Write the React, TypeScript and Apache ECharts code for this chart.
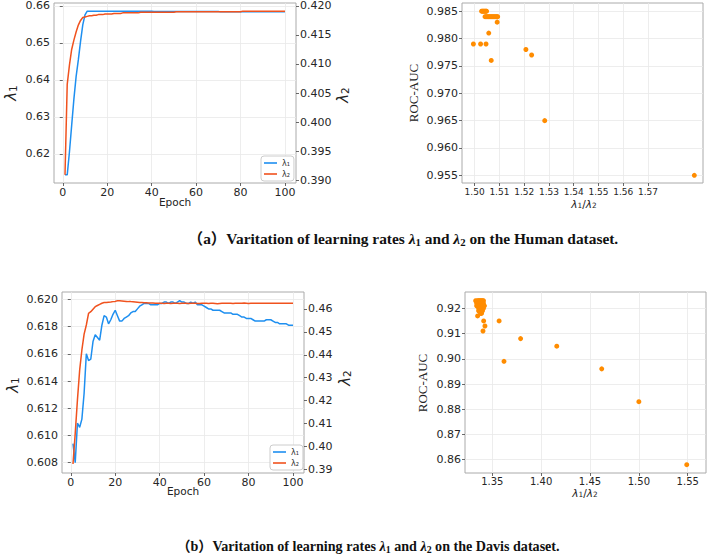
import React, { useEffect, useRef } from "react";
import * as echarts from "echarts";

// ---------- data ----------
const epochs = Array.from({ length: 100 }, (_, i) => i + 1);

const humanLambda1 = [
  0.6143, 0.6143, 0.6205, 0.6277, 0.6348, 0.6409, 0.6454, 0.6504, 0.6549, 0.6576,
  0.6586, 0.6586, 0.6586, 0.6586, 0.6586, 0.6586, 0.6586, 0.6586, 0.6586, 0.6586,
  0.6586, 0.6586, 0.6586, 0.6586, 0.6586, 0.6586, 0.6586, 0.6586, 0.6586, 0.6586,
  0.6586, 0.6586, 0.6586, 0.6586, 0.6586, 0.6586, 0.6586, 0.6586, 0.6586, 0.6586,
  0.6585, 0.6585, 0.6585, 0.6585, 0.6585, 0.6585, 0.6585, 0.6585, 0.6585, 0.6585,
  0.6585, 0.6585, 0.6585, 0.6585, 0.6585, 0.6585, 0.6585, 0.6585, 0.6585, 0.6585,
  0.6585, 0.6585, 0.6585, 0.6585, 0.6585, 0.6585, 0.6585, 0.6585, 0.6585, 0.6585,
  0.6584, 0.6584, 0.6584, 0.6584, 0.6584, 0.6584, 0.6584, 0.6584, 0.6584, 0.6584,
  0.6584, 0.6584, 0.6584, 0.6584, 0.6584, 0.6584, 0.6584, 0.6584, 0.6584, 0.6584,
  0.6584, 0.6584, 0.6584, 0.6584, 0.6584, 0.6584, 0.6584, 0.6584, 0.6584, 0.6584,
];

const humanLambda2 = [
  0.3909, 0.4065, 0.4098, 0.4125, 0.4141, 0.4155, 0.4167, 0.4175, 0.418, 0.4181,
  0.4182, 0.4183, 0.4183, 0.4184, 0.4184, 0.4185, 0.4185, 0.4185, 0.4186, 0.4186,
  0.4186, 0.4186, 0.4187, 0.4187, 0.4187, 0.4187, 0.4188, 0.4188, 0.4188, 0.4188,
  0.4188, 0.4188, 0.4188, 0.4188, 0.4189, 0.4189, 0.4189, 0.4189, 0.4189, 0.4189,
  0.4189, 0.4189, 0.4189, 0.4189, 0.4189, 0.4189, 0.4189, 0.4189, 0.4189, 0.4189,
  0.419, 0.419, 0.419, 0.419, 0.419, 0.419, 0.419, 0.419, 0.419, 0.419,
  0.419, 0.419, 0.419, 0.419, 0.419, 0.419, 0.419, 0.419, 0.419, 0.419,
  0.419, 0.419, 0.419, 0.419, 0.419, 0.419, 0.419, 0.419, 0.419, 0.419,
  0.4191, 0.4191, 0.4191, 0.4191, 0.4191, 0.4191, 0.4191, 0.4191, 0.4191, 0.4191,
  0.4191, 0.4191, 0.4191, 0.4191, 0.4191, 0.4191, 0.4191, 0.4191, 0.4191, 0.4191,
];

const davisLambda1 = [
  0.6094, 0.608, 0.6109, 0.6106, 0.6112, 0.6131, 0.616, 0.6155, 0.6156, 0.6169,
  0.6174, 0.6172, 0.617, 0.6181, 0.6188, 0.6187, 0.6182, 0.6185, 0.6189, 0.6192,
  0.6188, 0.6184, 0.6184, 0.6186, 0.6187, 0.6188, 0.619, 0.6191, 0.6191, 0.6193,
  0.6195, 0.6196, 0.6197, 0.6197, 0.6197, 0.6196, 0.6196, 0.6196, 0.6196, 0.6197,
  0.6197, 0.6198, 0.6198, 0.6197, 0.6198, 0.6198, 0.6197, 0.6198, 0.6199, 0.6198,
  0.6198, 0.6197, 0.6197, 0.6198, 0.6197, 0.6198, 0.6196, 0.6196, 0.6196, 0.6195,
  0.6194, 0.6193, 0.6193, 0.6192, 0.6192, 0.6192, 0.6192, 0.6191, 0.619, 0.619,
  0.619, 0.619, 0.6189, 0.6189, 0.6189, 0.6188, 0.6187, 0.6187, 0.6186, 0.6186,
  0.6186, 0.6185, 0.6184, 0.6184, 0.6184, 0.6184, 0.6184, 0.6185, 0.6185, 0.6185,
  0.6184, 0.6183, 0.6183, 0.6182, 0.6182, 0.6182, 0.6182, 0.6181, 0.6181, 0.6181,
];

const davisLambda2 = [
  0.3923, 0.4057, 0.4203, 0.4333, 0.4421, 0.449, 0.453, 0.4581, 0.4588, 0.4599,
  0.461, 0.4615, 0.462, 0.4625, 0.4628, 0.4628, 0.4629, 0.463, 0.4632, 0.4633,
  0.4636, 0.4636, 0.4635, 0.4634, 0.4633, 0.4632, 0.4632, 0.4631, 0.463, 0.4629,
  0.4628, 0.4628, 0.4627, 0.4627, 0.4626, 0.4626, 0.4626, 0.4625, 0.4625, 0.4625,
  0.4625, 0.4624, 0.4625, 0.4625, 0.4624, 0.4625, 0.4625, 0.4625, 0.4624, 0.4625,
  0.4625, 0.4625, 0.4624, 0.4625, 0.4625, 0.4625, 0.4624, 0.4624, 0.4625, 0.4625,
  0.4625, 0.4624, 0.4625, 0.4625, 0.4624, 0.4623, 0.4624, 0.4625, 0.4625, 0.4625,
  0.4625, 0.4625, 0.4624, 0.4625, 0.4625, 0.4625, 0.4625, 0.4626, 0.4625, 0.4624,
  0.4625, 0.4625, 0.4625, 0.4625, 0.4625, 0.4625, 0.4625, 0.4625, 0.4625, 0.4625,
  0.4625, 0.4625, 0.4625, 0.4625, 0.4625, 0.4625, 0.4625, 0.4625, 0.4625, 0.4625,
];

const humanRatio = [
  1.4995, 1.5024, 1.5046, 1.5057, 1.5067, 1.5091, 1.5207, 1.523, 1.5283, 1.5887,
  1.5028, 1.5031, 1.5034, 1.5037, 1.504, 1.5043, 1.5046, 1.5048,
  1.5042, 1.5046, 1.505, 1.5054, 1.5058, 1.5062, 1.5066, 1.507, 1.5074, 1.5078,
  1.5082, 1.5086, 1.509, 1.5093,
];
const humanAuc = [
  0.979, 0.979, 0.979, 0.981, 0.976, 0.983, 0.978, 0.977, 0.965, 0.955,
  0.985, 0.985, 0.985, 0.985, 0.985, 0.985, 0.985, 0.985,
  0.984, 0.984, 0.984, 0.984, 0.984, 0.984, 0.984, 0.984, 0.984, 0.984,
  0.984, 0.984, 0.984, 0.984,
];

const davisRatio = [
  1.333, 1.335, 1.336, 1.337, 1.338, 1.339, 1.34, 1.341,
  1.334, 1.336, 1.337, 1.338, 1.339, 1.34, 1.341,
  1.334, 1.335, 1.337, 1.338, 1.339, 1.34, 1.341, 1.342,
  1.336, 1.337, 1.338, 1.339, 1.34, 1.341,
  1.336, 1.337, 1.338, 1.339, 1.34,
  1.338, 1.339,
  1.335, 1.3412, 1.3425, 1.3405, 1.357, 1.362, 1.379, 1.416, 1.462, 1.5, 1.549,
];
const davisAuc = [
  0.923, 0.923, 0.923, 0.923, 0.923, 0.923, 0.923, 0.923,
  0.922, 0.922, 0.922, 0.922, 0.922, 0.922, 0.922,
  0.921, 0.921, 0.921, 0.921, 0.921, 0.921, 0.921, 0.921,
  0.92, 0.92, 0.92, 0.92, 0.92, 0.92,
  0.919, 0.919, 0.919, 0.919, 0.919,
  0.918, 0.918,
  0.917, 0.915, 0.913, 0.911, 0.915, 0.899, 0.908, 0.905, 0.896, 0.883, 0.858,
];

// tick labels
const epochTicks = [0, 20, 40, 60, 80, 100];
const humanL1Ticks = [0.62, 0.63, 0.64, 0.65, 0.66];
const humanL2Ticks = [0.39, 0.395, 0.4, 0.405, 0.41, 0.415, 0.42];
const humanRatioTicks = [1.5, 1.51, 1.52, 1.53, 1.54, 1.55, 1.56, 1.57];
const humanAucTicks = [0.955, 0.96, 0.965, 0.97, 0.975, 0.98, 0.985];
const davisL1Ticks = [0.608, 0.61, 0.612, 0.614, 0.616, 0.618, 0.62];
const davisL2Ticks = [0.39, 0.4, 0.41, 0.42, 0.43, 0.44, 0.45, 0.46];
const davisRatioTicks = [1.35, 1.4, 1.45, 1.5, 1.55];
const davisAucTicks = [0.86, 0.87, 0.88, 0.89, 0.9, 0.91, 0.92];

const BLUE = "#1E8FF0";
const RED = "#F0521E";
const ORANGE = "#FF8C00";
const TICK_FONT = "DejaVu Sans";

function valueAxis(
  gridIndex: number,
  min: number,
  max: number,
  ticks: number[],
  dec: number,
  position: string,
  split: boolean,
  fontSize = 11,
  margin = 4
) {
  return {
    type: "value",
    gridIndex,
    min,
    max,
    position,
    axisLine: { show: false },
    axisTick: {
      show: true,
      length: 3,
      customValues: ticks,
      lineStyle: { color: "#444", width: 0.8 },
    },
    axisLabel: {
      customValues: ticks,
      formatter: (v: number) => v.toFixed(dec),
      fontSize,
      fontFamily: TICK_FONT,
      color: "#262626",
      margin,
    },
    splitLine: { show: split, lineStyle: { color: "#e9e9e9", width: 0.8 } },
  };
}

const lamRich = (size: number) => ({
  i: { fontFamily: "DejaVu Sans", fontStyle: "italic", fontSize: size, lineHeight: size, verticalAlign: "middle", fill: "#222" },
  s: { fontFamily: "DejaVu Sans", fontSize: size * 0.7, lineHeight: size * 0.55, verticalAlign: "bottom", fill: "#222" },
  n: { fontFamily: "DejaVu Sans", fontSize: size, lineHeight: size, verticalAlign: "middle", fill: "#222" },
});

const capRich = (size: number) => ({
  b: { fontFamily: "Liberation Serif, Noto Sans CJK SC", fontWeight: "bold", fontSize: size, lineHeight: size + 3, verticalAlign: "middle", fill: "#111" },
  l: { fontFamily: "Liberation Serif", fontWeight: "bold", fontStyle: "italic", fontSize: size, lineHeight: size + 3, verticalAlign: "middle", fill: "#111" },
  s: { fontFamily: "Liberation Serif", fontWeight: "bold", fontSize: size * 0.7, lineHeight: size * 0.6, verticalAlign: "bottom", fill: "#111" },
});

function textEl(x: number, y: number, text: string, rich: any, rotation = 0) {
  return {
    type: "text",
    x,
    y,
    rotation,
    style: { text, rich, align: "center", verticalAlign: "middle" },
  };
}

function plainText(x: number, y: number, text: string, font: string, rotation = 0) {
  return {
    type: "text",
    x,
    y,
    rotation,
    style: { text, font, fill: "#222", align: "center", verticalAlign: "middle" },
  };
}

const legendBase = {
  data: ["λ₁", "λ₂"],
  orient: "vertical",
  icon: "rect",
  itemWidth: 13,
  itemHeight: 1.6,
  itemGap: 3,
  padding: [3, 4, 3, 3],
  backgroundColor: "#fff",
  borderColor: "#cccccc",
  borderWidth: 1,
  borderRadius: 3,
  textStyle: { fontSize: 8, fontFamily: "DejaVu Sans", color: "#333" },
};

const App: React.FC = () => {
  const ref = useRef<HTMLDivElement>(null);

  useEffect(() => {
    if (!ref.current) return;
    const chart = echarts.init(ref.current, undefined, { renderer: "svg" });

    const gridBase = { show: true, borderColor: "#aaaaaa", borderWidth: 1, backgroundColor: "#fff" };

    const option: any = {
      animation: false,
      backgroundColor: "#fff",
      grid: [
        { ...gridBase, left: 54, top: 3, width: 242, height: 180 },
        { ...gridBase, left: 462, top: 3, width: 241, height: 180 },
        { ...gridBase, left: 62, top: 292, width: 242, height: 181 },
        { ...gridBase, left: 465, top: 292, width: 241, height: 181 },
      ],
      xAxis: [
        valueAxis(0, -3.95, 104.95, epochTicks, 0, "bottom", true),
        valueAxis(1, 1.4949, 1.5922, humanRatioTicks, 2, "bottom", true, 9, 4),
        valueAxis(2, -3.95, 104.95, epochTicks, 0, "bottom", true),
        valueAxis(3, 1.3221, 1.5687, davisRatioTicks, 2, "bottom", true, 10, 3),
      ],
      yAxis: [
        valueAxis(0, 0.6121, 0.6608, humanL1Ticks, 2, "left", true),
        valueAxis(0, 0.3895, 0.4205, humanL2Ticks, 3, "right", false),
        valueAxis(1, 0.9536, 0.9865, humanAucTicks, 3, "left", true),
        valueAxis(2, 0.60724, 0.62054, davisL1Ticks, 3, "left", true),
        valueAxis(2, 0.3884, 0.4674, davisL2Ticks, 2, "right", false),
        valueAxis(3, 0.85471, 0.92648, davisAucTicks, 2, "left", true),
      ],
      legend: [
        { ...legendBase, left: 261, top: 156 },
        { ...legendBase, left: 270, top: 445 },
      ],
      series: [
        {
          name: "λ₁",
          type: "line",
          xAxisIndex: 0,
          yAxisIndex: 0,
          symbol: "none",
          data: epochs.map((e, i) => [e, humanLambda1[i]]),
          lineStyle: { color: BLUE, width: 1.5 },
          itemStyle: { color: BLUE },
        },
        {
          name: "λ₂",
          type: "line",
          xAxisIndex: 0,
          yAxisIndex: 1,
          symbol: "none",
          data: epochs.map((e, i) => [e, humanLambda2[i]]),
          lineStyle: { color: RED, width: 1.5 },
          itemStyle: { color: RED },
        },
        {
          name: "human-roc",
          type: "scatter",
          xAxisIndex: 1,
          yAxisIndex: 2,
          symbolSize: 5,
          data: humanRatio.map((r, i) => [r, humanAuc[i]]),
          itemStyle: { color: ORANGE, opacity: 1 },
        },
        {
          name: "λ₁",
          type: "line",
          xAxisIndex: 2,
          yAxisIndex: 3,
          symbol: "none",
          data: epochs.map((e, i) => [e, davisLambda1[i]]),
          lineStyle: { color: BLUE, width: 1.5 },
          itemStyle: { color: BLUE },
        },
        {
          name: "λ₂",
          type: "line",
          xAxisIndex: 2,
          yAxisIndex: 4,
          symbol: "none",
          data: epochs.map((e, i) => [e, davisLambda2[i]]),
          lineStyle: { color: RED, width: 1.5 },
          itemStyle: { color: RED },
        },
        {
          name: "davis-roc",
          type: "scatter",
          xAxisIndex: 3,
          yAxisIndex: 5,
          symbolSize: 5,
          data: davisRatio.map((r, i) => [r, davisAuc[i]]),
          itemStyle: { color: ORANGE, opacity: 1 },
        },
      ],
      graphic: [
        // top row axis titles
        textEl(11, 93, "{i|λ}{s|1}", lamRich(15), Math.PI / 2),
        textEl(343, 95, "{i|λ}{s|2}", lamRich(15), Math.PI / 2),
        textEl(175, 202, "{n|Epoch}", lamRich(10.5)),
        plainText(413, 93, "ROC-AUC", "13px 'Liberation Serif'", Math.PI / 2),
        textEl(584, 204, "{i|λ}{s|1}{n|/}{i|λ}{s|2}", lamRich(10.5)),
        // bottom row axis titles
        textEl(13, 385, "{i|λ}{s|1}", lamRich(15), Math.PI / 2),
        textEl(345, 378, "{i|λ}{s|2}", lamRich(15), Math.PI / 2),
        textEl(183, 491, "{n|Epoch}", lamRich(10.5)),
        plainText(422, 383, "ROC-AUC", "13px 'Liberation Serif'", Math.PI / 2),
        textEl(585, 493, "{i|λ}{s|1}{n|/}{i|λ}{s|2}", lamRich(10.5)),
        // captions
        textEl(
          403,
          238,
          "{b|（a）Varitation of learning rates }{l|λ}{s|1}{b| and }{l|λ}{s|2}{b| on the Human dataset.}",
          capRich(15.4)
        ),
        textEl(
          368,
          546,
          "{b|（b）Varitation of learning rates }{l|λ}{s|1}{b| and }{l|λ}{s|2}{b| on the Davis dataset.}",
          capRich(14.1)
        ),
      ],
    };

    chart.setOption(option);
    return () => chart.dispose();
  }, []);

  return (
    <div
      ref={ref}
      style={{ position: "absolute", left: 0, top: 0, width: 708, height: 556 }}
    />
  );
};

export default App;
